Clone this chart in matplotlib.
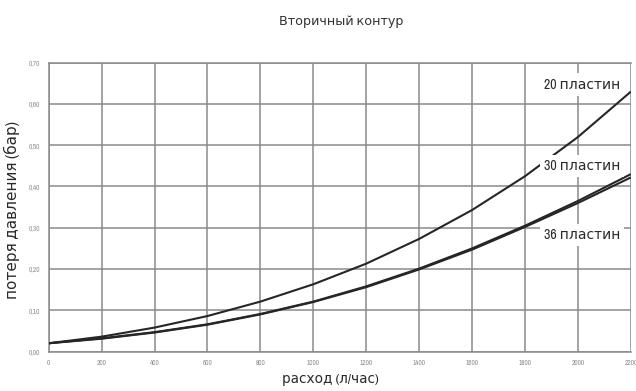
import matplotlib
matplotlib.use("Agg")
import matplotlib.pyplot as plt
from matplotlib import font_manager

# Flow rate (l/h) and pressure loss (bar) for each plate count
flow = [0, 200, 400, 600, 800, 1000, 1200, 1400, 1600, 1800, 2000, 2200]
loss_20 = [0.020, 0.036, 0.058, 0.086, 0.121, 0.163, 0.213, 0.273, 0.343, 0.425, 0.520, 0.630]
loss_30 = [0.020, 0.032, 0.047, 0.066, 0.091, 0.121, 0.158, 0.201, 0.250, 0.305, 0.365, 0.430]
loss_36 = [0.020, 0.031, 0.046, 0.065, 0.090, 0.120, 0.156, 0.199, 0.247, 0.302, 0.360, 0.422]

series_labels = ["20 пластин", "30 пластин", "36 пластин"]
label_values = [0.647, 0.450, 0.283]   # vertical placement of the curve labels

x_ticks = list(range(0, 2201, 200))
y_ticks = [0.0, 0.1, 0.2, 0.3, 0.4, 0.5, 0.6, 0.7]

title = "Вторичный контур"
x_label = "расход (л/час)"
y_label = "потеря давления (бар)"

# Prefer a condensed sans face if one is installed
available = sorted({f.name for f in font_manager.fontManager.ttflist})
condensed = [n for n in available if ("Narrow" in n or "Condensed" in n)]
main_font = condensed[0] if condensed else "Roboto"
plt.rcParams["font.family"] = [main_font, "DejaVu Sans"]

fig = plt.figure(figsize=(6.36, 3.91), dpi=100)
ax = fig.add_axes([0.0766, 0.101, 0.9154, 0.7386])

grid_color = "#8a8a8a"
ax.set_xlim(0, 2200)
ax.set_ylim(0, 0.7)
ax.set_xticks(x_ticks)
ax.set_yticks(y_ticks)
ax.set_xticklabels([str(v) for v in x_ticks])
ax.set_yticklabels([f"{v:.2f}".replace(".", ",") for v in y_ticks])
ax.tick_params(length=0, labelsize=5.2, labelcolor="#8f8f8f", pad=6)
ax.grid(True, color=grid_color, linewidth=1.1)
ax.set_axisbelow(True)
for side in ["top", "left", "bottom"]:
    ax.spines[side].set_color(grid_color)
    ax.spines[side].set_linewidth(1.1)
ax.spines["right"].set_visible(False)

line_kw = dict(color="#262626", linewidth=1.5, solid_capstyle="butt", zorder=3)
ax.plot(flow, loss_20, **line_kw)
ax.plot(flow, loss_30, **line_kw)
ax.plot(flow, loss_36, **line_kw)

for text, yv in zip(series_labels, label_values):
    ax.text(2015, yv, text, ha="center", va="center", fontsize=10, color="#2a2a2a",
            zorder=4, bbox=dict(facecolor="white", edgecolor="none", pad=3))

fig.text(0.537, 0.944, title, ha="center", va="center", fontsize=9.2, color="#333333")
fig.text(0.52, 0.027, x_label, ha="center", va="center", fontsize=9.8, color="#2a2a2a")
fig.text(0.019, 0.463, y_label, ha="center", va="center", rotation=90, fontsize=11,
         color="#2a2a2a")

fig.savefig("out.png", dpi=100)
